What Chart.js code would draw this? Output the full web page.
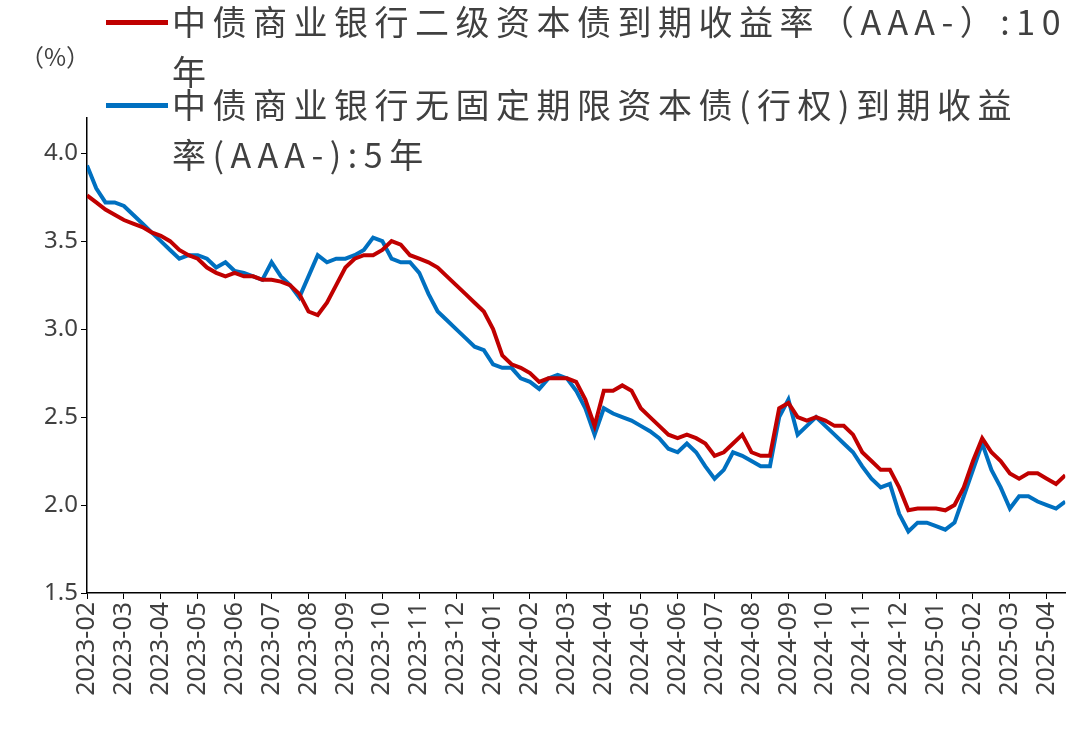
<!DOCTYPE html>
<html><head><meta charset="utf-8">
<script src="https://cdn.jsdelivr.net/npm/chart.js@4"></script>
<style>
body{margin:0;width:1080px;height:730px;background:#fff;overflow:hidden;font-family:"Noto Sans CJK SC","Noto Sans",sans-serif}
#wrap{position:absolute;left:0;top:0;width:1080px;height:730px}
.lg{position:absolute;font-size:34px;color:#404040;line-height:50px;letter-spacing:6.5px;white-space:nowrap}
.sw{position:absolute;width:62px;height:5px}
#unit{position:absolute;left:20px;top:38px;font-size:24px;color:#404040;font-family:"Noto Sans CJK SC"}
</style></head><body>
<div id="wrap"><canvas id="c" width="1080" height="730"></canvas></div>
<div id="unit">（%）</div>
<div class="sw" style="left:106px;top:20px;background:#C00000"></div>
<div class="lg" style="left:172px;top:-4px">中债商业银行二级资本债到期收益率（AAA-）:10<br>年</div>
<div class="sw" style="left:106px;top:103px;background:#0070C0"></div>
<div class="lg" style="left:172px;top:79px">中债商业银行无固定期限资本债(行权)到期收益<br>率(AAA-):5年</div>
<script>
const months=["2023-02","2023-03","2023-04","2023-05","2023-06","2023-07","2023-08","2023-09","2023-10","2023-11","2023-12","2024-01","2024-02","2024-03","2024-04","2024-05","2024-06","2024-07","2024-08","2024-09","2024-10","2024-11","2024-12","2025-01","2025-02","2025-03","2025-04"];
const red10y=[3.76,3.72,3.68,3.65, 3.62,3.60,3.58,3.55, 3.53,3.50,3.45,3.42, 3.40,3.35,3.32,3.30, 3.32,3.30,3.30,3.28, 3.28,3.27,3.25,3.20, 3.10,3.08,3.15,3.25, 3.35,3.40,3.42,3.42, 3.45,3.50,3.48,3.42, 3.40,3.38,3.35,3.30, 3.25,3.20,3.15,3.10, 3.00,2.85,2.80,2.78, 2.75,2.70,2.72,2.72, 2.72,2.70,2.60,2.45, 2.65,2.65,2.68,2.65, 2.55,2.50,2.45,2.40, 2.38,2.40,2.38,2.35, 2.28,2.30,2.35,2.40, 2.30,2.28,2.28,2.55, 2.58,2.50,2.48,2.50, 2.48,2.45,2.45,2.40, 2.30,2.25,2.20,2.20, 2.10,1.97,1.98,1.98, 1.98,1.97,2.00,2.10, 2.25,2.38,2.30,2.25, 2.18,2.15,2.18,2.18, 2.15,2.12,2.17];
const blue5y=[3.93,3.80,3.72,3.72, 3.70,3.65,3.60,3.55, 3.50,3.45,3.40,3.42, 3.42,3.40,3.35,3.38, 3.33,3.32,3.30,3.28, 3.38,3.30,3.25,3.18, 3.30,3.42,3.38,3.40, 3.40,3.42,3.45,3.52, 3.50,3.40,3.38,3.38, 3.32,3.20,3.10,3.05, 3.00,2.95,2.90,2.88, 2.80,2.78,2.78,2.72, 2.70,2.66,2.72,2.74, 2.72,2.65,2.55,2.40, 2.55,2.52,2.50,2.48, 2.45,2.42,2.38,2.32, 2.30,2.35,2.30,2.22, 2.15,2.20,2.30,2.28, 2.25,2.22,2.22,2.50, 2.60,2.40,2.45,2.50, 2.45,2.40,2.35,2.30, 2.22,2.15,2.10,2.12, 1.95,1.85,1.90,1.90, 1.88,1.86,1.90,2.05, 2.20,2.35,2.20,2.10, 1.98,2.05,2.05,2.02, 2.00,1.98,2.02];
const yTicks=[1.5,2.0,2.5,3.0,3.5,4.0];
const pts=a=>a.map((v,i)=>({x:i/4,y:v}));
new Chart(document.getElementById('c'),{type:'line',
data:{datasets:[
{data:pts(red10y),borderColor:'#C00000',borderWidth:4,pointRadius:0,tension:0},
{data:pts(blue5y),borderColor:'#0070C0',borderWidth:4,pointRadius:0,tension:0}]},
options:{responsive:false,animation:false,events:[],
layout:{padding:{left:0,right:10,top:118,bottom:0}},
plugins:{legend:{display:false},tooltip:{enabled:false}},
scales:{
x:{type:'linear',min:0,max:26.5,
afterBuildTicks:s=>{s.ticks=months.map((m,i)=>({value:i}));},
afterFit:s=>{s.height=137;},
ticks:{autoSkip:false,maxRotation:90,minRotation:90,color:'#404040',font:{size:25,family:'Noto Sans'},callback:v=>months[v]},
grid:{drawOnChartArea:false,color:'#000',tickLength:6},border:{color:'#000',width:1.5}},
y:{min:1.5,max:4.2,
afterBuildTicks:s=>{s.ticks=yTicks.map(v=>({value:v}));},
afterFit:s=>{s.width=87;},
ticks:{color:'#404040',font:{size:24,family:'Noto Sans'},callback:v=>v.toFixed(1)},
grid:{drawOnChartArea:false,color:'#000',tickLength:6},border:{color:'#000',width:1.5}}}}});
</script></body></html>
